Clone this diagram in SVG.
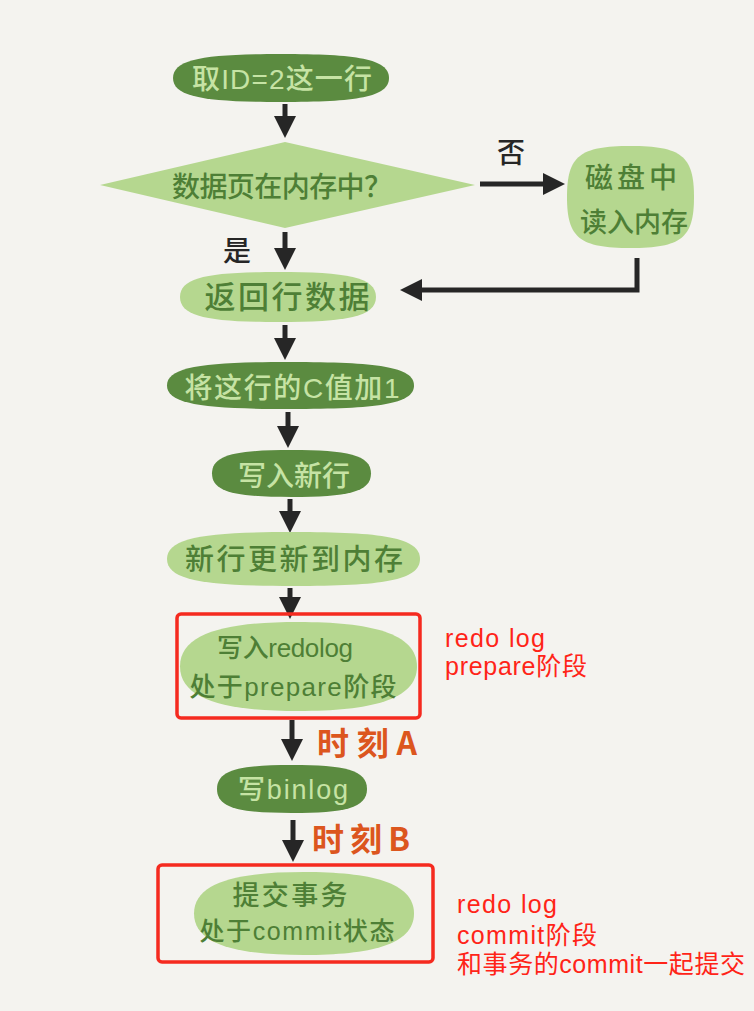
<svg xmlns="http://www.w3.org/2000/svg" width="754" height="1011" viewBox="0 0 754 1011">
<defs>
<style>
.dk{fill:#5b8b40}
.lt{fill:#b5d78f}
.hw{font-family:"Liberation Sans","Noto Sans CJK SC",sans-serif;font-weight:500;text-anchor:middle;dominant-baseline:central}
.tl{fill:#c6e3a4}
.td{fill:#4e7f36}
.lbl{font-family:"Noto Sans CJK SC","Noto Sans",sans-serif;font-weight:500;fill:#262626;text-anchor:middle;dominant-baseline:central}
.mark{font-family:"Noto Sans CJK SC","Noto Sans",sans-serif;font-weight:700;fill:#dc561e;font-size:32px}
.note{font-family:"Liberation Sans","Noto Sans CJK SC",sans-serif;fill:#ff2418;font-size:25px}
.red{fill:none;stroke:#f52a1f;stroke-width:3.5}
.ar{fill:none;stroke:#262626;stroke-width:5;stroke-linecap:butt}
</style>
<marker id="ah" viewBox="0 0 20 20" refX="10" refY="10" markerWidth="22" markerHeight="22" orient="auto" markerUnits="userSpaceOnUse">
<path d="M0,0 L20,10 L0,20 z" fill="#262626"/>
</marker>
</defs>
<rect width="754" height="1011" fill="#f4f3ef"/>

<g id="connectors">
<line class="ar" x1="285" y1="104" x2="285" y2="127" marker-end="url(#ah)"/>
<line class="ar" x1="480" y1="184" x2="554" y2="184" marker-end="url(#ah)"/>
<line class="ar" x1="285" y1="232" x2="285" y2="259" marker-end="url(#ah)"/>
<path class="ar" d="M637,258 L637,290 L411,290" marker-end="url(#ah)"/>
<line class="ar" x1="285" y1="325" x2="285" y2="349" marker-end="url(#ah)"/>
<line class="ar" x1="288" y1="412" x2="288" y2="437" marker-end="url(#ah)"/>
<line class="ar" x1="290" y1="499" x2="290" y2="522" marker-end="url(#ah)"/>
<line class="ar" x1="290" y1="588" x2="290" y2="608" marker-end="url(#ah)"/>
<line class="ar" x1="292" y1="720" x2="292" y2="750" marker-end="url(#ah)"/>
<line class="ar" x1="293" y1="820" x2="293" y2="851" marker-end="url(#ah)"/>
<text class="lbl" x="511" y="151" font-size="28">否</text>
<text class="lbl" x="237" y="249" font-size="28">是</text>
<text class="mark" x="317" y="755" textLength="100">时刻A</text>
<text class="mark" x="312" y="851" textLength="98">时刻B</text>
</g>

<g id="n1">
<path class="dk" d="M173,78 C173,58.8 205.4,54 281,54 C356.6,54 389,58.8 389,78 C389,97.2 356.6,102 281,102 C205.4,102 173,97.2 173,78Z"/>
<text class="hw tl" x="282" y="79" font-size="28" textLength="180">取ID=2这一行</text>
</g>

<g id="n2">
<polygon class="lt" points="100,185 285,142 475,185 285,228"/>
<text class="hw td" x="282" y="187" font-size="28" textLength="220">数据页在内存中？</text>
</g>

<g id="n3">
<path class="lt" d="M567,197 C567,156 579.7,146 630.5,146 C681.3,146 694,156 694,197 C694,238 681.3,248 630.5,248 C579.7,248 567,238 567,197Z"/>
<text class="hw td" x="631" y="178" font-size="28" textLength="92">磁盘中</text>
<text class="hw td" x="634" y="223" font-size="27" textLength="108">读入内存</text>
</g>

<g id="n4">
<path class="lt" d="M180,297 C180,277 209.4,272 278,272 C346.6,272 376,277 376,297 C376,317 346.6,322 278,322 C209.4,322 180,317 180,297Z"/>
<text class="hw td" x="287" y="297" font-size="31" textLength="165">返回行数据</text>
</g>

<g id="n5">
<path class="dk" d="M167,385.5 C167,366.7 204,362 290.5,362 C377,362 414,366.7 414,385.5 C414,404.3 377,409 290.5,409 C204,409 167,404.3 167,385.5Z"/>
<text class="hw tl" x="292" y="388" font-size="28" textLength="215">将这行的C值加1</text>
</g>

<g id="n6">
<path class="dk" d="M212,473.5 C212,454.7 235.9,450 291.5,450 C347.1,450 371,454.7 371,473.5 C371,492.3 347.1,497 291.5,497 C235.9,497 212,492.3 212,473.5Z"/>
<text class="hw tl" x="294" y="476" font-size="28" textLength="112">写入新行</text>
</g>

<g id="n7">
<path class="lt" d="M167,559 C167,537.4 205,532 293.5,532 C382,532 420,537.4 420,559 C420,580.6 382,586 293.5,586 C205,586 167,580.6 167,559Z"/>
<text class="hw td" x="294" y="560" font-size="29" textLength="218">新行更新到内存</text>
</g>

<g id="n8">
<rect class="red" x="177" y="614" width="243" height="104" rx="4"/>
<path class="lt" d="M180,666.5 C180,632.7 227.4,622 298.5,622 C369.6,622 417,632.7 417,666.5 C417,700.3 369.6,711 298.5,711 C227.4,711 180,700.3 180,666.5Z"/>
<text class="hw td" x="285" y="648" font-size="26" textLength="136">写入redolog</text>
<text class="hw td" x="293" y="687" font-size="26" textLength="207">处于prepare阶段</text>
<text class="note" x="445" y="647" textLength="100">redo log</text>
<text class="note" x="445" y="675" textLength="142">prepare阶段</text>
</g>

<g id="n9">
<path class="dk" d="M217,789 C217,769.8 239.5,765 292,765 C344.5,765 367,769.8 367,789 C367,808.2 344.5,813 292,813 C239.5,813 217,808.2 217,789Z"/>
<text class="hw tl" x="293" y="790" font-size="27" textLength="110">写binlog</text>
</g>

<g id="n10">
<rect class="red" x="158" y="865" width="275" height="97" rx="4"/>
<path class="lt" d="M194,913.5 C194,882 238,872 304,872 C370,872 414,882 414,913.5 C414,945 370,955 304,955 C238,955 194,945 194,913.5Z"/>
<text class="hw td" x="290" y="896" font-size="27" textLength="115">提交事务</text>
<text class="hw td" x="297" y="931" font-size="25" textLength="195">处于commit状态</text>
<text class="note" x="457" y="913" textLength="100">redo log</text>
<text class="note" x="457" y="944" textLength="140">commit阶段</text>
<text class="note" x="457" y="973" textLength="288">和事务的commit一起提交</text>
</g>
</svg>
